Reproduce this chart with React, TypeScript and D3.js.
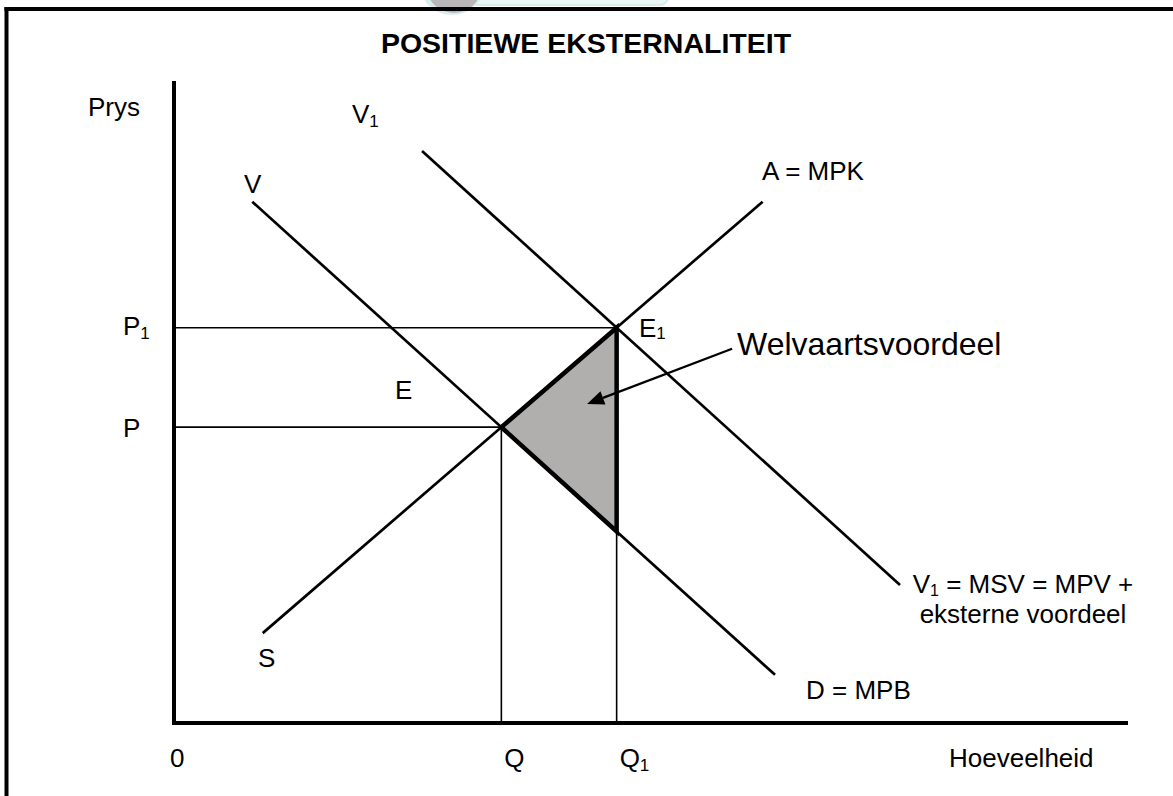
import React from "react";
import * as d3 from "d3";

// ---- Data (diagram units: quantity 0..10, price 0..10) ----
const supplyLine = [[0.93, 1.4], [6.17, 8.12]]; // A = MPK (S)
const demandLine = [[0.82, 8.12], [6.3, 0.75]]; // V, D = MPB
const socialDemandLine = [[2.6, 8.91], [7.61, 2.15]]; // V1 = MSV
const arrowLine = [[5.85, 5.83], [4.33, 4.97]];
const title = "POSITIEWE EKSTERNALITEIT";
const yAxisLabel = "Prys";
const xAxisLabel = "Hoeveelheid";
const areaLabel = "Welvaartsvoordeel";

const W = 1173;
const H = 796;
const FONT = "'Liberation Sans', Arial, Helvetica, sans-serif";

function lineAt(l: number[][], x: number) {
  const [[x1, y1], [x2, y2]] = l;
  return y1 + ((y2 - y1) * (x - x1)) / (x2 - x1);
}
function intersect(a: number[][], b: number[][]) {
  const sa = (a[1][1] - a[0][1]) / (a[1][0] - a[0][0]);
  const sb = (b[1][1] - b[0][1]) / (b[1][0] - b[0][0]);
  const ia = a[0][1] - sa * a[0][0];
  const ib = b[0][1] - sb * b[0][0];
  const x = (ib - ia) / (sa - sb);
  return [x, sa * x + ia];
}

export default function App() {
  const x = d3.scaleLinear().domain([0, 10]).range([174, 1128]);
  const y = d3.scaleLinear().domain([0, 10]).range([723, 81]);
  const line = d3
    .line<number[]>()
    .x((d) => x(d[0]))
    .y((d) => y(d[1]));

  const E = intersect(supplyLine, demandLine);
  const E1 = intersect(supplyLine, socialDemandLine);
  const Q = E[0];
  const P = E[1];
  const Q1 = E1[0];
  const P1 = E1[1];
  const tri = [E, [Q1, lineAt(supplyLine, Q1)], [Q1, lineAt(demandLine, Q1)]];

  // arrowhead
  const [a0, a1] = arrowLine;
  const ax0 = x(a0[0]), ay0 = y(a0[1]), ax1 = x(a1[0]), ay1 = y(a1[1]);
  const ang = Math.atan2(ay1 - ay0, ax1 - ax0);
  const hl = 17, hw = 7;
  const bx = ax1 - hl * Math.cos(ang), by = ay1 - hl * Math.sin(ang);
  const head = [
    [ax1, ay1],
    [bx + hw * Math.sin(ang), by - hw * Math.cos(ang)],
    [bx - hw * Math.sin(ang), by + hw * Math.cos(ang)],
  ];

  const baseY = 767;
  const fs = 26;
  const sub = 17;

  return (
    <svg
      width={W}
      height={H}
      style={{ position: "absolute", left: 0, top: 0, background: "#fff" }}
      fontFamily={FONT}
    >
      {/* faint watermark at top */}
      <g>
        <rect x={470} y={-12} width={198} height={17} rx={8} fill="#e9f6f5" stroke="#cfe8e6" strokeWidth={1.5} />
        <circle cx={452} cy={-18} r={33} fill="#d9efed" />
        <circle cx={454} cy={-15} r={28} fill="#b9b7b7" />
      </g>

      {/* frame */}
      <line x1={6.5} y1={7} x2={6.5} y2={H} stroke="#000" strokeWidth={4} />
      <line x1={4.5} y1={9} x2={W} y2={9} stroke="#000" strokeWidth={4} />

      <text x={586} y={53} textAnchor="middle" fontSize={28.5} fontWeight="bold">
        {title}
      </text>

      {/* guide lines */}
      <line x1={x(0)} y1={y(P1)} x2={x(Q1)} y2={y(P1)} stroke="#000" strokeWidth={1.6} />
      <line x1={x(0)} y1={y(P)} x2={x(Q)} y2={y(P)} stroke="#000" strokeWidth={1.6} />
      <line x1={x(Q)} y1={y(P)} x2={x(Q)} y2={y(0)} stroke="#000" strokeWidth={1.6} />
      <line x1={x(Q1)} y1={y(P1)} x2={x(Q1)} y2={y(0)} stroke="#000" strokeWidth={1.6} />

      {/* welfare gain triangle */}
      <path d={line(tri)! + "Z"} fill="#b1aeae" stroke="#000" strokeWidth={4.5} strokeLinejoin="miter" />

      {/* curves */}
      <path d={line(supplyLine)!} stroke="#000" strokeWidth={2.7} fill="none" />
      <path d={line(demandLine)!} stroke="#000" strokeWidth={2.7} fill="none" />
      <path d={line(socialDemandLine)!} stroke="#000" strokeWidth={2.7} fill="none" />

      {/* axes */}
      <line x1={x(0)} y1={y(10)} x2={x(0)} y2={y(0) + 2} stroke="#000" strokeWidth={4} />
      <line x1={x(0) - 2} y1={y(0)} x2={x(10)} y2={y(0)} stroke="#000" strokeWidth={4} />

      {/* arrow */}
      <line x1={ax0} y1={ay0} x2={bx} y2={by} stroke="#000" strokeWidth={2.2} />
      <path d={line(head.map((p) => [x.invert(p[0]), y.invert(p[1])]))! + "Z"} fill="#000" />

      {/* labels */}
      <g fontSize={fs} fill="#000">
        <text x={88} y={116}>{yAxisLabel}</text>
        <text x={352} y={123}>
          V<tspan fontSize={sub} dy={4}>1</tspan>
        </text>
        <text x={244} y={193}>V</text>
        <text x={762} y={180}>A = MPK</text>
        <text x={123} y={335}>
          P<tspan fontSize={sub} dy={4}>1</tspan>
        </text>
        <text x={123} y={437}>P</text>
        <text x={395} y={399}>E</text>
        <text x={639} y={337}>
          E<tspan fontSize={sub} dy={2}>1</tspan>
        </text>
        <text x={737} y={355} fontSize={32}>{areaLabel}</text>
        <text x={1023} y={593} textAnchor="middle">
          V<tspan fontSize={16} dy={3}>1</tspan>
          <tspan dy={-3}> = MSV = MPV +</tspan>
        </text>
        <text x={1023} y={623} textAnchor="middle">eksterne voordeel</text>
        <text x={806} y={699}>D = MPB</text>
        <text x={258} y={667}>S</text>
        <text x={170} y={baseY}>0</text>
        <text x={x(Q) + 3} y={baseY}>Q</text>
        <text x={x(Q1) + 3} y={baseY}>
          Q<tspan fontSize={sub} dy={4}>1</tspan>
        </text>
        <text x={949} y={baseY}>{xAxisLabel}</text>
      </g>
    </svg>
  );
}
